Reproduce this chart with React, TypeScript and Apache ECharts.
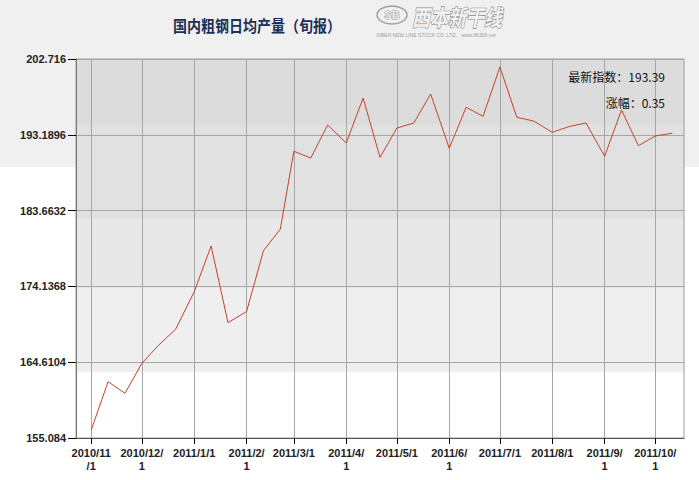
import React, { useEffect, useRef } from "react";
import * as echarts from "echarts";

const dates = [
  "2010-11-01", "2010-11-11", "2010-11-21",
  "2010-12-01", "2010-12-11", "2010-12-21",
  "2011-01-01", "2011-01-11", "2011-01-21",
  "2011-02-01", "2011-02-11", "2011-02-21",
  "2011-03-01", "2011-03-11", "2011-03-21",
  "2011-04-01", "2011-04-11", "2011-04-21",
  "2011-05-01", "2011-05-11", "2011-05-21",
  "2011-06-01", "2011-06-11", "2011-06-21",
  "2011-07-01", "2011-07-11", "2011-07-21",
  "2011-08-01", "2011-08-11", "2011-08-21",
  "2011-09-01", "2011-09-11", "2011-09-21",
  "2011-10-01", "2011-10-11",
];

const values = [
  156.084, 162.16, 160.7,
  164.47, 166.77, 168.75,
  173.47, 179.22, 169.58,
  170.98, 178.62, 181.35,
  191.12, 190.27, 194.42,
  192.16, 197.81, 190.36,
  194.04, 194.67, 198.32,
  191.49, 196.65, 195.51,
  201.716, 195.39, 194.92,
  193.5, 194.23, 194.67,
  190.49, 196.31, 191.82,
  193.04, 193.39,
];

const xTickDates = [
  "2010-11-01", "2010-12-01", "2011-01-01", "2011-02-01", "2011-03-01", "2011-04-01",
  "2011-05-01", "2011-06-01", "2011-07-01", "2011-08-01", "2011-09-01", "2011-10-01",
];
const xTickLabels = [
  "2010/11\n/1", "2010/12/\n1", "2011/1/1", "2011/2/\n1", "2011/3/1", "2011/4/\n1",
  "2011/5/1", "2011/6/\n1", "2011/7/1", "2011/8/1", "2011/9/\n1", "2011/10/\n1",
];
const yTicks = [155.084, 164.6104, 174.1368, 183.6632, 193.1896, 202.716];
const xRange = ["2010-10-23", "2011-10-18"];

const titleText = "国内粗钢日均产量（旬报）";
const latestLabel = "最新指数：";
const changeLabel = "涨幅：";

function toTime(s: string): number {
  const [y, m, d] = s.split("-").map(Number);
  return Date.UTC(y, m - 1, d);
}

export default function App() {
  const ref = useRef<HTMLDivElement>(null);

  useEffect(() => {
    if (!ref.current) return;
    const chart = echarts.init(ref.current, null, { renderer: "svg" });
    const xTickTimes = xTickDates.map(toTime);
    const latest = values[values.length - 1];
    const change = latest - values[values.length - 2];
    const labelFont = "'Liberation Sans', Arial, sans-serif";
    const cjk = "'Noto Sans CJK SC', sans-serif";

    const bg = new echarts.graphic.LinearGradient(0, 0, 0, 1, [
      { offset: 0, color: "#dcdcdc" },
      { offset: 0.174, color: "#dcdcdc" },
      { offset: 0.174, color: "#e1e1e1" },
      { offset: 0.42, color: "#e1e1e1" },
      { offset: 0.42, color: "#e8e8e8" },
      { offset: 0.604, color: "#e8e8e8" },
      { offset: 0.604, color: "#efefef" },
      { offset: 0.826, color: "#efefef" },
      { offset: 0.826, color: "#ffffff" },
      { offset: 1, color: "#ffffff" },
    ]);

    chart.setOption({
      animation: false,
      backgroundColor: "transparent",
      grid: {
        left: 76,
        right: 15,
        top: 59,
        bottom: 42,
        show: true,
        backgroundColor: bg,
        borderColor: "#9a9a9a",
        borderWidth: 1,
        outerBoundsMode: "none",
        containLabel: false,
      },
      xAxis: {
        type: "value",
        min: toTime(xRange[0]),
        max: toTime(xRange[1]),
        axisLine: { show: true, onZero: false, lineStyle: { color: "#555", width: 1 } },
        axisTick: {
          show: true,
          length: 6,
          customValues: xTickTimes,
          lineStyle: { color: "#000", width: 1 },
        },
        axisLabel: {
          customValues: xTickTimes,
          formatter: (v: number) => {
            let best = 0;
            for (let i = 1; i < xTickTimes.length; i++) {
              if (Math.abs(xTickTimes[i] - v) < Math.abs(xTickTimes[best] - v)) best = i;
            }
            return xTickLabels[best];
          },
          fontSize: 11,
          fontWeight: "bold",
          fontFamily: labelFont,
          color: "#222",
          lineHeight: 13,
          margin: 8,
          hideOverlap: false,
        },
        splitLine: { show: true, lineStyle: { color: "#a6a6a6", width: 1 } },
      },
      yAxis: {
        type: "value",
        min: yTicks[0],
        max: yTicks[yTicks.length - 1],
        axisLine: { show: true, onZero: false, lineStyle: { color: "#777", width: 1 } },
        axisTick: {
          show: true,
          length: 8,
          customValues: yTicks,
          lineStyle: { color: "#000", width: 1 },
        },
        axisLabel: {
          customValues: yTicks,
          formatter: (v: number) => String(v),
          fontSize: 11,
          fontWeight: "bold",
          fontFamily: labelFont,
          color: "#222",
          margin: 10,
        },
        splitLine: { show: true, lineStyle: { color: "#a6a6a6", width: 1 } },
      },
      series: [
        {
          type: "line",
          data: dates.map((d, i) => [toTime(d), values[i]]),
          showSymbol: false,
          symbol: "none",
          lineStyle: { color: "#c4432a", width: 1 },
          z: 3,
        },
      ],
      graphic: [
        {
          type: "text",
          x: 257,
          y: 25,
          scaleY: 1.12,
          style: {
            text: titleText,
            fontSize: 14,
            fontWeight: "bold",
            fontFamily: cjk,
            fill: "#1a2f55",
            align: "center",
            verticalAlign: "middle",
          },
        },
        {
          type: "ellipse",
          shape: { cx: 392, cy: 15, rx: 15, ry: 9 },
          style: { fill: "none", stroke: "#a0a0a0", lineWidth: 1.5 },
        },
        {
          type: "text",
          x: 392,
          y: 15,
          style: {
            text: "SB",
            fontSize: 11,
            fontWeight: "bold",
            fontFamily: labelFont,
            fill: "#ececec",
            stroke: "#9a9a9a",
            lineWidth: 1,
            align: "center",
            verticalAlign: "middle",
          },
        },
        {
          type: "text",
          x: 412,
          y: 16,
          scaleY: 1.25,
          style: {
            text: "西本新干线",
            fontSize: 18,
            fontStyle: "italic",
            fontWeight: "bold",
            fontFamily: cjk,
            fill: "#f2f2f2",
            stroke: "#8c8c8c",
            lineWidth: 1,
            align: "left",
            verticalAlign: "middle",
          },
        },
        {
          type: "text",
          x: 376,
          y: 35,
          style: {
            text: "XIBEN NEW LINE STOCK CO.,LTD.   www.96369.net",
            fontSize: 5,
            fontFamily: labelFont,
            fill: "#a0a0a0",
            align: "left",
            verticalAlign: "middle",
          },
        },
        {
          type: "text",
          x: 665,
          y: 76,
          z: 10,
          style: {
            text: latestLabel + latest.toFixed(2),
            fontSize: 12,
            fontFamily: cjk,
            fill: "#111",
            align: "right",
            verticalAlign: "middle",
          },
        },
        {
          type: "text",
          x: 665,
          y: 102,
          z: 10,
          style: {
            text: changeLabel + change.toFixed(2),
            fontSize: 12,
            fontFamily: cjk,
            fill: "#111",
            align: "right",
            verticalAlign: "middle",
          },
        },
      ],
    });
    return () => chart.dispose();
  }, []);

  return (
    <div
      ref={ref}
      style={{
        position: "fixed",
        left: 0,
        top: 0,
        width: 699,
        height: 480,
        background: "linear-gradient(#f0f0f0 0px, #f0f0f0 167px, #ffffff 167px, #ffffff 480px)",
      }}
    />
  );
}
